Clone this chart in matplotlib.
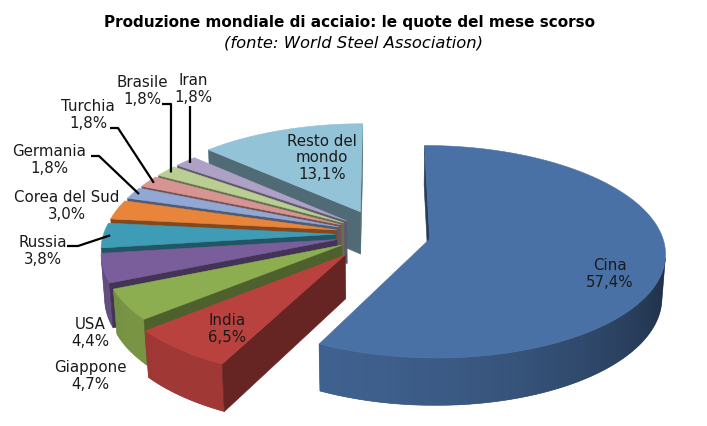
import numpy as np
import matplotlib
matplotlib.use('Agg')
import matplotlib.pyplot as plt
from matplotlib.patches import Polygon
from matplotlib.colors import to_rgb

# ===================== DATI =====================
paesi = ['Cina', 'India', 'Giappone', 'USA', 'Russia', 'Corea del Sud',
         'Germania', 'Turchia', 'Brasile', 'Iran', 'Resto del\nmondo']
quote = [57.4, 6.5, 4.7, 4.4, 3.8, 3.0, 1.8, 1.8, 1.8, 1.8, 13.1]
etichette = ['57,4%', '6,5%', '4,7%', '4,4%', '3,8%', '3,0%',
             '1,8%', '1,8%', '1,8%', '1,8%', '13,1%']

colori = ['#4A71A6', '#B9413E', '#8DAE50', '#7A5E9C', '#3F9CB6', '#E8853A',
          '#92A8D4', '#D69593', '#BACD92', '#ADA1C6', '#93C3D6']
esplosione = [0.21, 0.25, 0.2, 0.2, 0.2, 0.2, 0.2, 0.2, 0.2, 0.2, 0.24]

# posizione del testo (px) e gomito della linea guida
pos_testo = [(610, 274), (227, 329), (90, 376), (90, 333), (43, 251), (67, 206),
             (49, 160), (88, 115), (142, 91), (193, 89), (322, 158)]
guide = [None, None, None, None, [(67, 247), (78, 247)], None,
         [(91, 157), (99, 157)], [(110, 129), (118, 129)],
         [(162, 105), (171, 105)], [(191, 107)], None]

# ===================== VISTA 3D =====================
W, H = 707, 427
ELEV = np.radians(26.5)
DIST = 7.5
SCALA = 232
CX, CY = 382, 235
SPESS = 0.21
LUCE = np.array([-0.6, -0.8])
cam = np.array([0.0, -DIST * np.cos(ELEV), DIST * np.sin(ELEV)])


def proietta(x, y, z):
    x = np.atleast_1d(np.asarray(x, float))
    y = np.atleast_1d(np.asarray(y, float))
    z = np.broadcast_to(np.asarray(z, float), x.shape)
    v = y * np.sin(ELEV) + z * np.cos(ELEV)
    d = y * np.cos(ELEV) - z * np.sin(ELEV)
    k = DIST / (DIST + d)
    return np.column_stack([CX + SCALA * x * k, CY - SCALA * v * k])


def visibile(n, p):
    return np.dot(n, cam - p) > 0


def scurisci(col, f):
    return np.clip(np.array(to_rgb(col)) * f, 0, 1)


fig = plt.figure(figsize=(W / 100, H / 100), dpi=100)
ax = fig.add_axes([0, 0, 1, 1])
ax.set_xlim(0, W)
ax.set_ylim(H, 0)
ax.axis('off')

frac = np.array(quote) / np.sum(quote)
fine = np.cumsum(frac) * 360
inizio = fine - frac * 360

fette = []
for i in range(len(quote)):
    t1, t2 = inizio[i], fine[i]
    tm = np.radians((t1 + t2) / 2)
    o = esplosione[i] * np.array([np.sin(tm), np.cos(tm)])
    n_arc = max(3, int((t2 - t1) / 1.0) + 1)
    tt = np.radians(np.linspace(t1, t2, n_arc))
    ax_ = o[0] + np.sin(tt)
    ay_ = o[1] + np.cos(tt)
    facce = []
    # pareti esterne: tratti visibili contigui, con sfumatura
    vis = []
    for j in range(n_arc - 1):
        m = (tt[j] + tt[j + 1]) / 2
        n = np.array([np.sin(m), np.cos(m), 0.0])
        p = np.array([o[0] + np.sin(m), o[1] + np.cos(m), -SPESS / 2])
        vis.append(visibile(n, p))
    j = 0
    while j < len(vis):
        if not vis[j]:
            j += 1
            continue
        j0 = j
        while j < len(vis) and vis[j]:
            j += 1
        idx = np.arange(j0, j + 1)
        sup = proietta(ax_[idx], ay_[idx], 0.0)
        inf = proietta(ax_[idx], ay_[idx], -SPESS)
        poly = np.vstack([sup, inf[::-1]])
        f = np.clip(0.55 + 0.32 * (np.sin(tt[idx]) * LUCE[0] + np.cos(tt[idx]) * LUCE[1]),
                    0.36, 0.9)
        facce.append(('parete', poly, (sup[:, 0], f), colori[i]))
    # facce radiali
    for t, n2 in [(tt[0], np.array([-np.cos(tt[0]), np.sin(tt[0])])),
                  (tt[-1], np.array([np.cos(tt[-1]), -np.sin(tt[-1])]))]:
        n = np.array([n2[0], n2[1], 0.0])
        p = np.array([o[0] + 0.5 * np.sin(t), o[1] + 0.5 * np.cos(t), -SPESS / 2])
        if not visibile(n, p):
            continue
        xs = [o[0], o[0] + np.sin(t), o[0] + np.sin(t), o[0]]
        ys = [o[1], o[1] + np.cos(t), o[1] + np.cos(t), o[1]]
        zs = [0, 0, -SPESS, -SPESS]
        facce.append(('piana', proietta(xs, ys, zs), None, scurisci(colori[i], 0.55)))
    # faccia superiore
    top = proietta(np.r_[o[0], ax_], np.r_[o[1], ay_], 0.0)
    facce.append(('piana', top, None, colori[i]))
    c = o + 0.5 * np.array([np.sin(tm), np.cos(tm)])
    fette.append((c[1] * np.cos(ELEV), facce))

# dal piu' lontano al piu' vicino
ordine = sorted(range(len(fette)), key=lambda k: -fette[k][0])
z = 1
for k in ordine:
    for tipo, poly, grad, col in fette[k][1]:
        if tipo == 'piana':
            ax.add_patch(Polygon(poly, closed=True, facecolor=col, edgecolor=col,
                                 lw=0.4, zorder=z))
        else:
            gx, gf = grad
            o_ = np.argsort(gx)
            xmin, xmax = poly[:, 0].min(), poly[:, 0].max()
            ymin, ymax = poly[:, 1].min(), poly[:, 1].max()
            cols = np.linspace(xmin, xmax, 200)
            ff = np.interp(cols, gx[o_], gf[o_])
            img = np.clip(np.array(to_rgb(col))[None, None, :] * ff[None, :, None], 0, 1)
            media = scurisci(col, ff.mean())
            patch = Polygon(poly, closed=True, facecolor=media, edgecolor=media,
                            lw=0.4, zorder=z)
            ax.add_patch(patch)
            im = ax.imshow(img, extent=[xmin, xmax, ymax, ymin], aspect='auto',
                           interpolation='bilinear', zorder=z + 0.5)
            im.set_clip_path(patch)
            ax.set_xlim(0, W)
            ax.set_ylim(H, 0)
        z += 1

# etichette
for i in range(len(quote)):
    x, y = pos_testo[i]
    ax.text(x, y, f'{paesi[i]}\n{etichette[i]}', ha='center', va='center',
            fontsize=10.8, color='#1a1a1a', linespacing=1.12, zorder=200)
    if guide[i] is not None:
        tm = np.radians((inizio[i] + fine[i]) / 2)
        r = esplosione[i] + 0.97
        bordo = proietta(r * np.sin(tm), r * np.cos(tm), 0.0)[0]
        pts = np.array(guide[i] + [tuple(bordo)])
        if len(guide[i]) == 1:
            pts[0, 0] = bordo[0]
        ax.plot(pts[:, 0], pts[:, 1], color='black', lw=1.6, zorder=199,
                solid_capstyle='butt')

fig.text(349.5 / W, 1 - 22 / H, 'Produzione mondiale di acciaio: le quote del mese scorso',
         ha='center', va='center', fontsize=11, fontweight='bold')
fig.text(354 / W, 1 - 43 / H, '(fonte: World Steel Association)',
         ha='center', va='center', fontsize=11.8, style='italic')

fig.savefig('out.png', dpi=100)
